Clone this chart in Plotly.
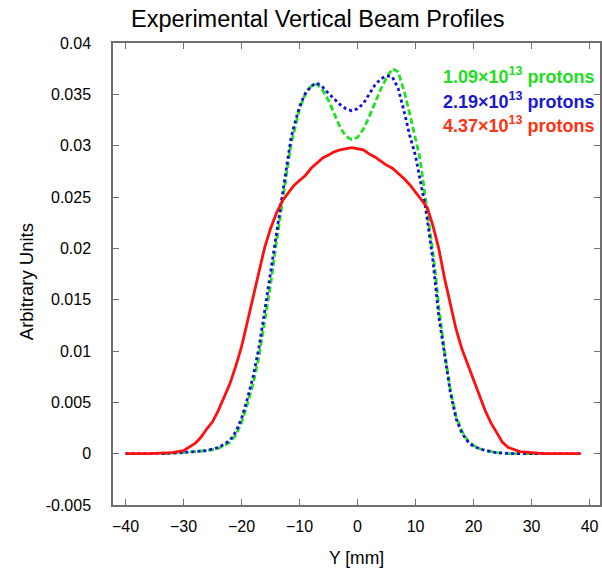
import plotly.graph_objects as go

# ---- data ----
red_x = [-40, -36, -32, -30, -28, -27, -26, -25, -24, -23, -22, -21, -20, -19, -18, -17, -16, -15, -14, -13,
         -12, -11, -10, -9, -8, -7, -6, -5, -4, -3, -2, -1, 0, 1, 2, 3, 4, 5, 6, 7, 8, 9, 10, 11, 12, 13,
         14, 15, 16, 17, 18, 19, 20, 21, 22, 23, 24, 25, 26, 27, 28, 30, 32, 35, 38.5]
red_y = [0, 0, 0.0001, 0.0003, 0.0010, 0.0016, 0.0024, 0.0031, 0.0042, 0.0055, 0.0068, 0.0085, 0.0104,
         0.0128, 0.0152, 0.0175, 0.0201, 0.0219, 0.0234, 0.0246, 0.0254, 0.0261, 0.0266, 0.0271, 0.0278,
         0.0283, 0.0288, 0.0291, 0.0294, 0.0296, 0.0297, 0.0298, 0.0297, 0.0296, 0.0292, 0.0289, 0.0285,
         0.0281, 0.0278, 0.0273, 0.0268, 0.0262, 0.0255, 0.0248, 0.0240, 0.0222, 0.0200, 0.0171, 0.0146,
         0.0121, 0.0102, 0.0087, 0.0070, 0.0055, 0.0042, 0.0030, 0.0020, 0.0011, 0.0006, 0.0004, 0.0002,
         0.0001, 0, 0, 0]

green_x = [-33.5, -30, -28, -26, -24, -23, -22, -21, -20, -19, -18, -17, -16, -15, -14, -13, -12.3, -11.5,
           -11, -10, -9, -8, -7, -6, -5, -4, -3, -2, -1, 0, 1, 2, 3, 4, 5, 6, 7, 8, 9, 10, 10.6, 11, 11.7,
           12, 12.6, 13, 13.5, 14, 14.9, 15.7, 16, 17, 18, 18.6, 19, 20, 21, 22, 24, 26, 28, 31]
green_y = [0, 0.0001, 0.0002, 0.0003, 0.0005, 0.0008, 0.0011, 0.0018, 0.0030, 0.0048, 0.0068, 0.0094,
           0.0128, 0.0164, 0.0205, 0.0243, 0.0271, 0.0300, 0.0312, 0.0336, 0.0350, 0.0358, 0.0360, 0.0354,
           0.0344, 0.0331, 0.0318, 0.0309, 0.0306, 0.0308, 0.0316, 0.0328, 0.0342, 0.0355, 0.0366, 0.0375,
           0.0372, 0.0354, 0.0331, 0.0305, 0.0292, 0.0278, 0.0250, 0.0238, 0.0214, 0.0196, 0.0172, 0.0143,
           0.0104, 0.0072, 0.0062, 0.0036, 0.0022, 0.0016, 0.0013, 0.0008, 0.0005, 0.0003, 0.0001, 0, 0, 0]

blue_x = [-40, -37, -34, -30, -28, -26, -24, -23, -22, -21, -20, -19, -18, -17, -16, -15, -14, -13, -12.3,
          -11.5, -11, -10, -9, -8, -7, -6, -5, -4, -3, -2, -1, 0, 1, 2, 3, 4, 5, 6, 7, 8, 9, 10, 11, 11.7,
          12, 13, 14, 15, 16, 17, 18, 19, 20, 22, 24, 27, 30, 34, 38.6]
blue_y = [0, 0, 0, 0.0001, 0.0002, 0.0003, 0.0006, 0.0009, 0.0013, 0.0021, 0.0034, 0.0053, 0.0075, 0.0103,
          0.0139, 0.0176, 0.0216, 0.0253, 0.0280, 0.0306, 0.0318, 0.0338, 0.0351, 0.0358, 0.0361, 0.0357,
          0.0351, 0.0345, 0.0340, 0.0336, 0.0334, 0.0336, 0.0341, 0.0350, 0.0359, 0.0365, 0.0368, 0.0367,
          0.0356, 0.0334, 0.0310, 0.0290, 0.0262, 0.0240, 0.0229, 0.0188, 0.0134, 0.0096, 0.0060, 0.0034,
          0.0020, 0.0012, 0.0007, 0.0003, 0.0001, 0, 0, 0, 0]

x_ticks = [-40, -30, -20, -10, 0, 10, 20, 30, 40]
y_ticks = [-0.005, 0, 0.005, 0.01, 0.015, 0.02, 0.025, 0.03, 0.035, 0.04]
y_tick_text = ["-0.005", "0", "0.005", "0.01", "0.015", "0.02", "0.025", "0.03", "0.035", "0.04"]

legend_labels = ["1.09×10<sup>13</sup> protons", "2.19×10<sup>13</sup> protons", "4.37×10<sup>13</sup> protons"]
legend_colors = ["#22dd22", "#1a1acc", "#ff3311"]

FONT = "Liberation Sans, Arial, sans-serif"
AX = "#707070"

fig = go.Figure()
fig.add_trace(go.Scatter(x=green_x, y=green_y, mode="lines",
                         line=dict(color="#22e022", width=2.8, dash="6px,3px")))
fig.add_trace(go.Scatter(x=blue_x, y=blue_y, mode="lines",
                         line=dict(color="#1010dd", width=2.8, dash="3px,3px")))
fig.add_trace(go.Scatter(x=red_x, y=red_y, mode="lines",
                         line=dict(color="#ff0f0f", width=2.8)))

axis_common = dict(showgrid=False, zeroline=False, showline=True, linecolor=AX, linewidth=1.5,
                   mirror="ticks", ticks="inside", ticklen=6, tickcolor=AX, tickwidth=1.2,
                   tickfont=dict(family=FONT, size=16, color="#000"))

fig.update_xaxes(range=[-42.15, 41.8], tickvals=x_ticks, ticklabelstandoff=6, **axis_common)
fig.update_yaxes(range=[-0.005, 0.04], tickvals=y_ticks, ticktext=y_tick_text,
                 ticklabelstandoff=17, **axis_common)

ann = [
    dict(text="Experimental Vertical Beam Profiles", x=319, y=18,
         font=dict(family=FONT, size=23.5, color="#000")),
    dict(text="Arbitrary Units", x=25, y=281, textangle=-90,
         font=dict(family=FONT, size=18.5, color="#000")),
    dict(text="Y [mm]", x=357, y=558, font=dict(family=FONT, size=17.5, color="#000")),
]
for i, (lab, col) in enumerate(zip(legend_labels, legend_colors)):
    ann.append(dict(text="<b>" + lab + "</b>", x=442, y=[75, 100, 124][i], xanchor="left",
                    font=dict(family=FONT, size=18, color=col)))

W, H = 602, 572
L, R, T, B = 112.5, 0, 42.5, 67
annotations = []
for a in ann:
    a = dict(a)
    a["x"] = (a["x"] - L) / (W - L - R)
    a["y"] = (H - B - a["y"]) / (H - T - B)
    a["xref"] = "paper"
    a["yref"] = "paper"
    a.setdefault("xanchor", "center")
    a["yanchor"] = "middle"
    a["showarrow"] = False
    annotations.append(a)

fig.update_layout(width=W, height=H, margin=dict(l=L, r=R, t=T, b=B),
                  plot_bgcolor="white", paper_bgcolor="white", showlegend=False,
                  annotations=annotations)

fig.write_html("out.html")
